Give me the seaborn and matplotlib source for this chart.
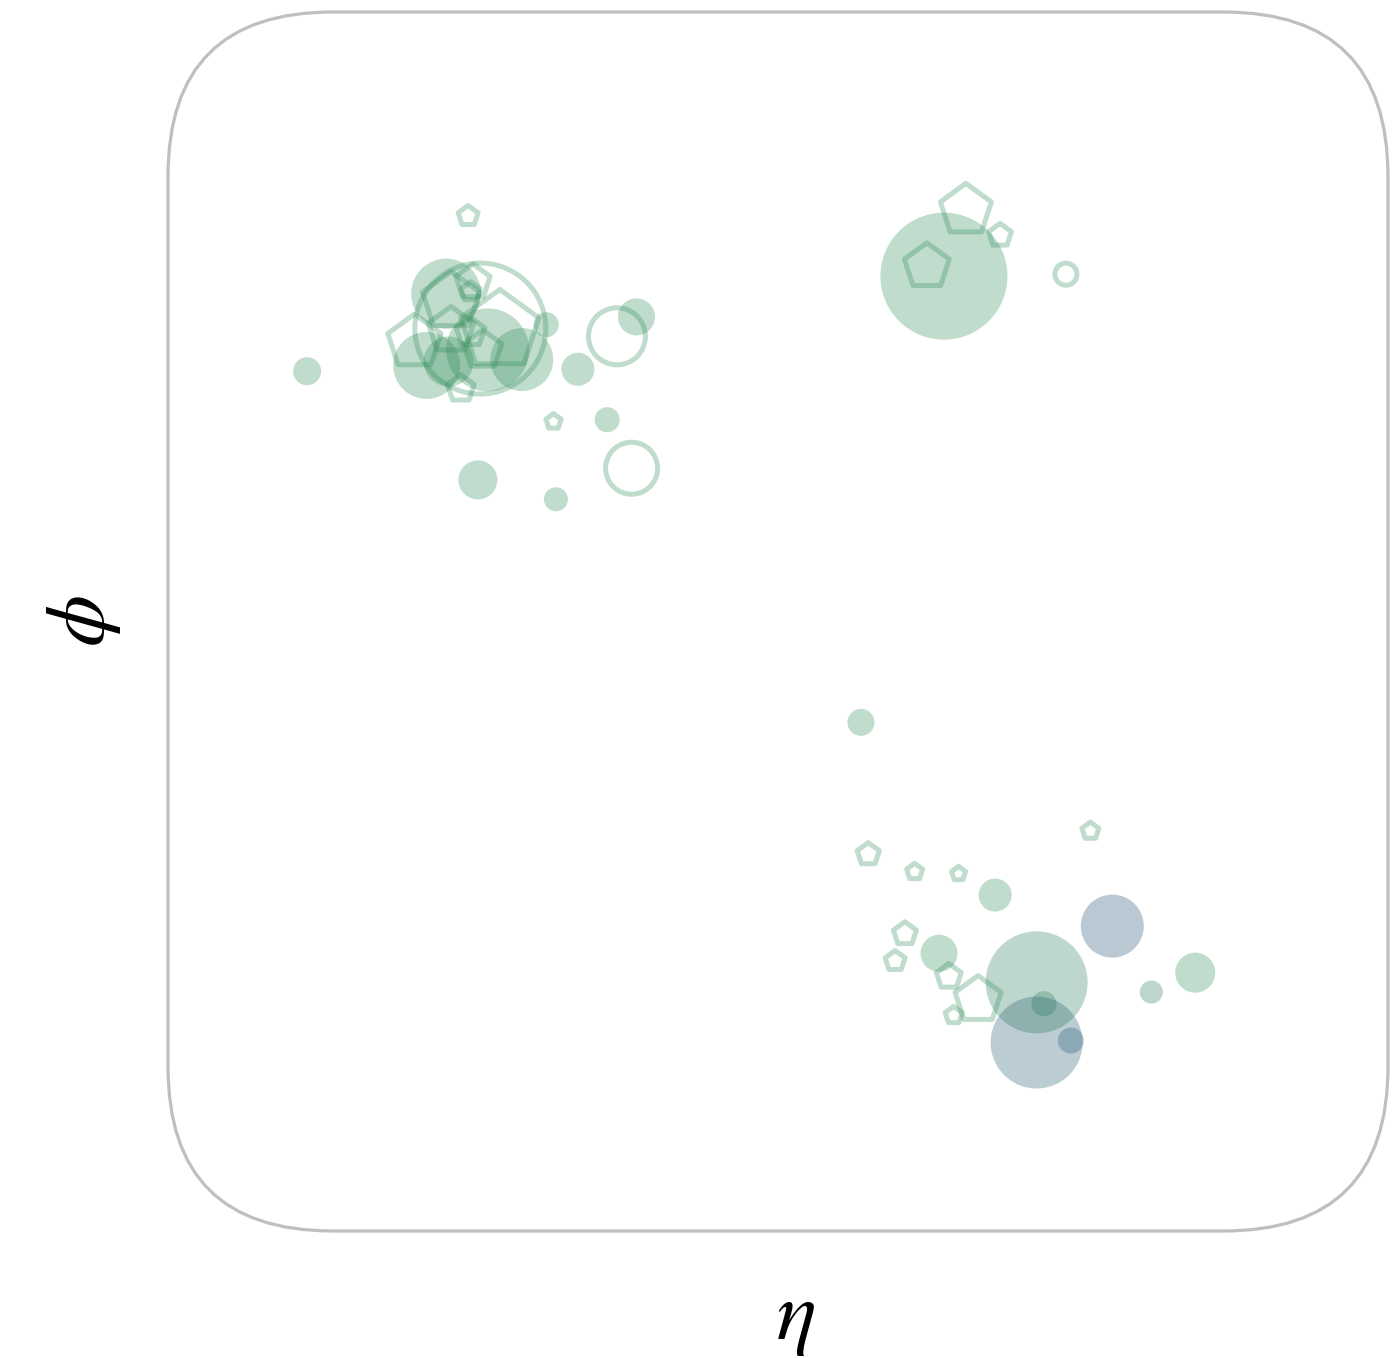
import numpy as np
import pandas as pd
import matplotlib
matplotlib.use("Agg")
import matplotlib.pyplot as plt
from matplotlib.patches import FancyBboxPatch
from matplotlib.colors import LinearSegmentedColormap
import seaborn as sns

# Calorimeter deposits: filled discs, coloured by the charged/neutral mix
fill_eta = [-1.93, -1.36, -1.44, -1.19, -1.05, -1.35, -0.95, -0.82, -0.58, -0.70,
            -1.23, -0.91, 0.68, 0.34, 0.89, 0.66, 1.06, 1.09, 1.06, 1.20,
            1.37, 1.53, 1.71]
fill_phi = [1.29, 1.69, 1.32, 1.40, 1.35, 1.34, 1.53, 1.30, 1.57, 1.04,
            0.73, 0.63, 1.78, -0.52, -1.41, -1.71, -1.86, -1.97, -2.17, -2.16,
            -1.57, -1.91, -1.81]
fill_energy = [16.3, 101.6, 93.1, 142.8, 82.3, 51.8, 13.0, 22.6, 28.4, 13.0,
               31.5, 11.9, 334.4, 15.1, 22.6, 28.4, 215.7, 13.0, 175.5, 14.0,
               82.3, 11.0, 33.2]
fill_mix = [0.0, 0.0, 0.0, 0.0, 0.0, 0.0, 0.0, 0.0, 0.0, 0.0,
            0.0, 0.0, 0.0, 0.0, 0.0, 0.0, 0.25, 0.15, 0.75, 0.85,
            1.0, 0.4, 0.0]

# Track seeds: open rings
ring_eta = [-1.22, -0.66, -0.60, 1.18]
ring_phi = [1.51, 1.47, 0.79, 1.79]
ring_energy = [355.8, 67.4, 56.1, 10.0]

# Secondary vertices: open pentagons
pent_eta = [-1.27, -1.14, -1.49, -1.25, -1.34, -1.26, -1.34, -1.21, -1.26, -1.30,
            -0.92, 0.77, 0.91, 0.61, 0.37, 0.56, 0.74, 1.28, 0.52, 0.48,
            0.70, 0.82, 0.72]
pent_phi = [2.09, 1.50, 1.44, 1.75, 1.65, 1.70, 1.50, 1.40, 1.49, 1.20,
            1.03, 2.12, 1.99, 1.83, -1.20, -1.29, -1.30, -1.08, -1.61, -1.75,
            -1.83, -1.95, -2.03]
pent_energy = [9.1, 139.5, 65.0, 26.9, 74.7, 8.3, 47.8, 33.2, 18.7, 16.3,
               5.3, 59.6, 11.9, 46.2, 11.2, 5.9, 4.5, 6.6, 12.1, 9.1,
               14.2, 48.6, 6.6]

GREEN = "#2e8b57"
BLUE = "#1c4b73"
ALPHA = 0.3
SIZE_NORM = (0, 400)
SIZES = (0, 400 * 25)

sns.set_theme(style="white")
plt.rcParams["mathtext.fontset"] = "stix"

fig = plt.figure(figsize=(13.92, 13.58), dpi=100)
ax = fig.add_axes([168 / 1392, 127 / 1358, 1220 / 1392, 1219 / 1358])

fill_df = pd.DataFrame({"eta": fill_eta, "phi": fill_phi,
                        "energy": fill_energy, "mix": fill_mix})
ring_df = pd.DataFrame({"eta": ring_eta, "phi": ring_phi, "energy": ring_energy})
pent_df = pd.DataFrame({"eta": pent_eta, "phi": pent_phi, "energy": pent_energy})

cmap = LinearSegmentedColormap.from_list("mix", [GREEN, BLUE])

sns.scatterplot(data=fill_df, x="eta", y="phi", hue="mix", palette=cmap,
                hue_norm=(0, 1), size="energy", sizes=SIZES, size_norm=SIZE_NORM,
                marker="o", linewidth=0, alpha=ALPHA, legend=False, ax=ax)

sns.scatterplot(data=ring_df, x="eta", y="phi", size="energy", sizes=SIZES,
                size_norm=SIZE_NORM, marker="o", color=GREEN, facecolor="none",
                edgecolor=GREEN, linewidth=3.6, alpha=ALPHA, legend=False, ax=ax)

sns.scatterplot(data=pent_df, x="eta", y="phi", size="energy", sizes=SIZES,
                size_norm=SIZE_NORM, marker="p", color=GREEN, facecolor="none",
                edgecolor=GREEN, linewidth=3.6, alpha=ALPHA, legend=False, ax=ax)

ax.set_xlim(-2.5, 2.5)
ax.set_ylim(-np.pi, np.pi)
ax.set_xticks([])
ax.set_yticks([])
for sp in ax.spines.values():
    sp.set_visible(False)
ax.patch.set_alpha(0)

frame = FancyBboxPatch((0, 0), 1, 1, boxstyle="round,pad=0,rounding_size=0.135",
                       transform=ax.transAxes, facecolor="none",
                       edgecolor="#bfbfbf", linewidth=2.3, clip_on=False, zorder=0)
ax.add_patch(frame)

ax.set_xlabel(r"$\eta$", fontsize=60, color="black")
ax.set_ylabel(r"$\phi$", fontsize=60, color="black")
ax.xaxis.set_label_coords(0.514, -0.038)
ax.yaxis.set_label_coords(-0.037, 0.5)

fig.savefig("out.png", dpi=100)
